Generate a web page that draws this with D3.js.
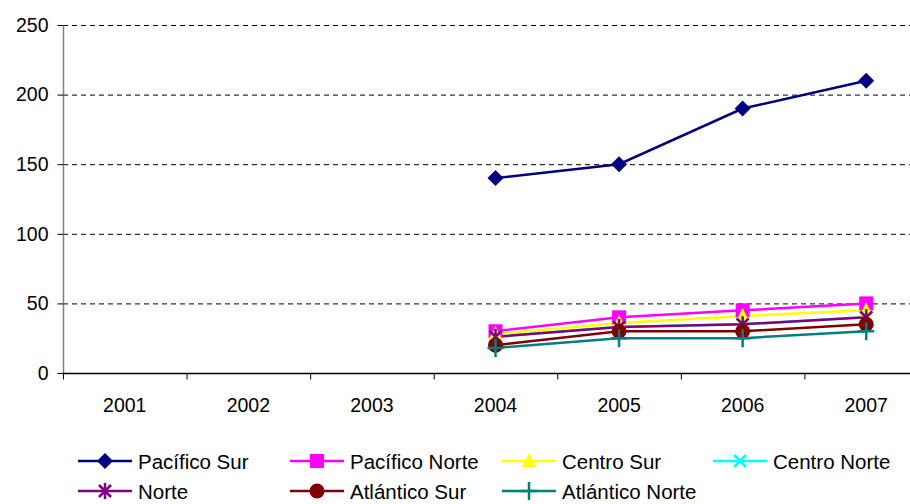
<!DOCTYPE html>
<html>
<head>
<meta charset="utf-8">
<script src="https://cdn.jsdelivr.net/npm/d3@7/dist/d3.min.js"></script>
<style>
  html, body { margin: 0; padding: 0; background: #fff; }
  svg { display: block; font-family: "Liberation Sans", Arial, sans-serif; }
</style>
</head>
<body>
<svg id="chart" width="910" height="504"></svg>
<script>
// Years on the category axis
const years = ["2001", "2002", "2003", "2004", "2005", "2006", "2007"];
// Value axis ticks
const yTicks = [0, 50, 100, 150, 200, 250];

// Series values per year (null = no data)
const pacificoSur     = [null, null, null, 140, 150, 190, 210];
const pacificoNorte   = [null, null, null, 30, 40, 45, 50];
const centroSur       = [null, null, null, 28, 36, 41, 45];
const centroNorte     = [null, null, null, 26, 33, 35, 40];
const norte           = [null, null, null, 26, 33, 35, 40];
const atlanticoSur    = [null, null, null, 20, 30, 30, 35];
const atlanticoNorte  = [null, null, null, 18, 25, 25, 30];

const series = [
  { name: "Pacífico Sur",    values: pacificoSur,    color: "#000080", marker: "diamond" },
  { name: "Pacífico Norte",  values: pacificoNorte,  color: "#FF00FF", marker: "square" },
  { name: "Centro Sur",      values: centroSur,      color: "#FFFF00", marker: "triangle" },
  { name: "Centro Norte",    values: centroNorte,    color: "#00FFFF", marker: "x" },
  { name: "Norte",           values: norte,          color: "#800080", marker: "star" },
  { name: "Atlántico Sur",   values: atlanticoSur,   color: "#800000", marker: "circle" },
  { name: "Atlántico Norte", values: atlanticoNorte, color: "#008080", marker: "plus" }
];

const svg = d3.select("#chart");
const plot = { left: 63, top: 25, right: 928, bottom: 373 };
const fontFamily = "'Liberation Sans', Arial, sans-serif";

const x = d3.scaleBand().domain(years).range([plot.left, plot.right]);
const y = d3.scaleLinear().domain([0, 250]).range([plot.bottom, plot.top]);

// Horizontal dashed gridlines
svg.append("g").selectAll("line")
  .data(yTicks.filter(d => d > 0))
  .join("line")
  .attr("x1", plot.left).attr("x2", 910)
  .attr("y1", d => y(d) + 0.5).attr("y2", d => y(d) + 0.5)
  .attr("stroke", "#000").attr("stroke-width", 1)
  .attr("stroke-dasharray", "5,4");

// Y axis
const yAxis = svg.append("g")
  .attr("transform", `translate(${plot.left + 0.5},0)`)
  .call(d3.axisLeft(y).tickValues(yTicks).tickSize(6).tickPadding(9));
yAxis.select(".domain").attr("stroke", "#808080").attr("stroke-width", 1.5).attr("d", `M0,${plot.top}V${plot.bottom}`);
yAxis.selectAll(".tick line").attr("stroke", "#000");
yAxis.selectAll("text").attr("font-size", 19.5).attr("fill", "#000")
  .attr("font-family", fontFamily);

// X axis with ticks on band boundaries
const xg = svg.append("g").attr("transform", `translate(0,${plot.bottom + 0.5})`);
xg.append("line").attr("x1", plot.left).attr("x2", 910).attr("y1", 0).attr("y2", 0)
  .attr("stroke", "#000").attr("stroke-width", 1.5);
xg.selectAll("line.tk")
  .data(years)
  .join("line").attr("class", "tk")
  .attr("x1", d => x(d) + 0.5).attr("x2", d => x(d) + 0.5)
  .attr("y1", 0).attr("y2", 6)
  .attr("stroke", "#000");
xg.selectAll("text")
  .data(years)
  .join("text")
  .attr("x", d => x(d) + x.bandwidth() / 2)
  .attr("y", 38.5)
  .attr("text-anchor", "middle")
  .attr("font-size", 19.5)
  .text(d => d);

const cx = i => x(years[i]) + x.bandwidth() / 2;

// Marker drawing
function drawMarker(g, type, color, px, py) {
  const s = g.append("g").attr("transform", `translate(${px},${py})`);
  switch (type) {
    case "diamond":
      s.append("path").attr("d", "M0,-8L8,0L0,8L-8,0Z").attr("fill", color);
      break;
    case "square":
      s.append("rect").attr("x", -7).attr("y", -7).attr("width", 14).attr("height", 14).attr("fill", color);
      break;
    case "triangle":
      s.append("path").attr("d", "M0,-8L7,6L-7,6Z").attr("fill", color);
      break;
    case "x":
      s.append("path").attr("d", "M-6,-6L6,6M-6,6L6,-6").attr("stroke", color).attr("stroke-width", 2.5);
      break;
    case "star":
      s.append("path").attr("d", "M-6,-6L6,6M-6,6L6,-6M0,-8V8").attr("stroke", color).attr("stroke-width", 2.5);
      break;
    case "circle":
      s.append("circle").attr("r", 7.5).attr("fill", color);
      break;
    case "plus":
      s.append("path").attr("d", "M-8,0H8M0,-9V9").attr("stroke", color).attr("stroke-width", 2.5);
      break;
  }
}

const line = d3.line()
  .defined(d => d.v != null)
  .x(d => cx(d.i))
  .y(d => y(d.v));

const linesG = svg.append("g");
const markersG = svg.append("g");
series.forEach(s => {
  const pts = s.values.map((v, i) => ({ v, i }));
  linesG.append("path")
    .datum(pts)
    .attr("d", line)
    .attr("fill", "none")
    .attr("stroke", s.color)
    .attr("stroke-width", 2.5);
  pts.filter(p => p.v != null).forEach(p => drawMarker(markersG, s.marker, s.color, cx(p.i), y(p.v)));
});

// Legend
const legendCols = [78, 290, 502, 713];
const legendRows = [461, 491];
const lg = svg.append("g");
series.forEach((s, k) => {
  const lx = legendCols[k % 4];
  const ly = legendRows[Math.floor(k / 4)];
  lg.append("line").attr("x1", lx).attr("x2", lx + 54).attr("y1", ly).attr("y2", ly)
    .attr("stroke", s.color).attr("stroke-width", 2.5);
  drawMarker(lg, s.marker, s.color, lx + 27, ly);
  lg.append("text").attr("x", lx + 60).attr("y", ly + 8)
    .attr("font-size", 20.5).attr("font-family", fontFamily).text(s.name);
});
</script>
</body>
</html>
